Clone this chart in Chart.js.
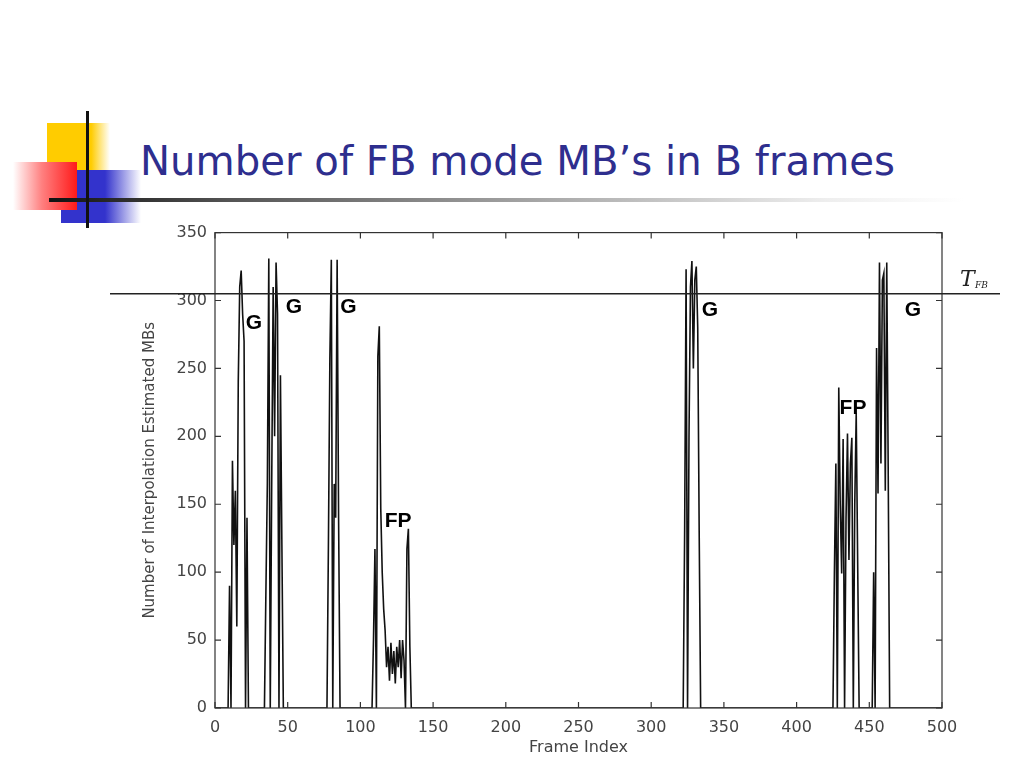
<!DOCTYPE html>
<html>
<head>
<meta charset="utf-8">
<script src="https://cdn.jsdelivr.net/npm/chart.js@4.4.0/dist/chart.umd.min.js"></script>
<style>
  html, body { margin: 0; padding: 0; background: #fff; }
  body { width: 1024px; height: 768px; position: relative; overflow: hidden; }
  .deco { position: absolute; }
  #yellow { left: 47px; top: 123px; width: 63px; height: 62px; background: linear-gradient(to right, #ffcc00 0%, #ffcc00 70%, #fff 100%); }
  #blue { left: 61px; top: 170px; width: 80px; height: 53px; background: linear-gradient(to right, #3333cc 0%, #3333cc 55%, #fff 100%); }
  #red { left: 13px; top: 162px; width: 64px; height: 48px; background: linear-gradient(to right, #fff 0%, #ff8080 45%, #ff1a1a 100%); }
  #vline { left: 86px; top: 111px; width: 3px; height: 117px; background: #111; }
  #hline { left: 49px; top: 198px; width: 915px; height: 4px; background: linear-gradient(to right, #111 0%, #555 20%, #aaa 55%, #eee 85%, #fff 100%); }
  #title { position: absolute; left: 140px; top: 138px; font-family: "DejaVu Sans", sans-serif; font-size: 40px; color: #2e2e8e; white-space: nowrap; transform-origin: left top; }
  #wrap { position: absolute; left: 100px; top: 215px; width: 910px; height: 553px; }
</style>
</head>
<body>
<div class="deco" id="yellow"></div>
<div class="deco" id="blue"></div>
<div class="deco" id="red"></div>
<div class="deco" id="hline"></div>
<div class="deco" id="vline"></div>
<div id="title">Number of FB mode MB’s in B frames</div>
<div id="wrap"><canvas id="chart" width="910" height="553"></canvas></div>
<script>
// frames 0..500, all zero outside the bursts below
const frameMax = 500;
const burstStart = [9, 34, 77, 108, 322, 425, 452];
const burstA = [0, 90, 0, 182, 120, 160, 60, 240, 310, 322, 290, 270, 0, 140, 0];
const burstB = [0, 85, 165, 331, 0, 165, 310, 200, 328, 290, 0, 245, 120, 0];
const burstC = [0, 120, 257, 330, 0, 165, 140, 330, 140, 0];
const burstD = [0, 50, 117, 0, 259, 281, 147, 100, 73, 57, 30, 45, 20, 48, 25, 42, 18, 45, 30, 50, 22, 50, 35, 0, 117, 132, 46, 0];
const burstE = [0, 130, 323, 0, 200, 310, 329, 250, 315, 325, 280, 130, 0];
const burstF = [0, 100, 180, 0, 236, 150, 99, 198, 0, 140, 202, 109, 180, 199, 0, 150, 217, 107, 0];
const burstG = [0, 100, 0, 265, 158, 328, 180, 315, 320, 160, 328, 175, 0];
const bursts = [burstA, burstB, burstC, burstD, burstE, burstF, burstG];

const thresholdFB = 305;

const markText = ['G', 'G', 'G', 'FP', 'G', 'FP', 'G'];
const markFrame = [26.8, 54.3, 91.8, 126, 340.4, 438.8, 480];
const markValue = [283.5, 295, 295, 137.5, 292.6, 221, 292.6];

// build the series
const counts = new Array(frameMax + 1).fill(0);
bursts.forEach((b, i) => {
  b.forEach((v, k) => { counts[burstStart[i] + k] = v; });
});
const points = counts.map((v, f) => ({ x: f, y: v }));

// fit the title to the slide width
const titleEl = document.getElementById('title');
const tw = titleEl.getBoundingClientRect().width;
titleEl.style.transform = 'scaleX(' + (755 / tw) + ')';

const axisColor = '#333';
const tickFont = { family: 'DejaVu Sans', size: 16 };

const frameBox = {
  id: 'frameBox',
  afterDraw(chart) {
    const { ctx, chartArea: a, scales } = chart;
    ctx.save();
    ctx.strokeStyle = axisColor;
    ctx.lineWidth = 1.2;
    ctx.strokeRect(a.left, a.top, a.right - a.left, a.bottom - a.top);
    ctx.beginPath();
    scales.x.ticks.forEach(t => {
      const px = scales.x.getPixelForValue(t.value);
      ctx.moveTo(px, a.bottom); ctx.lineTo(px, a.bottom - 6);
      ctx.moveTo(px, a.top); ctx.lineTo(px, a.top + 6);
    });
    scales.y.ticks.forEach(t => {
      const py = scales.y.getPixelForValue(t.value);
      ctx.moveTo(a.left, py); ctx.lineTo(a.left + 6, py);
      ctx.moveTo(a.right, py); ctx.lineTo(a.right - 6, py);
    });
    ctx.stroke();

    // threshold line, runs past the axes
    const ty = scales.y.getPixelForValue(thresholdFB);
    ctx.strokeStyle = '#222';
    ctx.lineWidth = 1.5;
    ctx.beginPath();
    ctx.moveTo(10, ty); ctx.lineTo(900, ty);
    ctx.stroke();
    ctx.fillStyle = '#222';
    ctx.font = 'italic 22px "DejaVu Serif", serif';
    ctx.textBaseline = 'alphabetic';
    ctx.fillText('T', a.right + 18, ty - 8);
    ctx.font = 'italic 9px "DejaVu Serif", serif';
    ctx.fillText('FB', a.right + 33, ty - 6);

    // G / FP marks
    ctx.fillStyle = '#000';
    ctx.font = 'bold 21px "Liberation Sans", Arial, sans-serif';
    ctx.textAlign = 'center';
    ctx.textBaseline = 'middle';
    markText.forEach((s, i) => {
      ctx.fillText(s, scales.x.getPixelForValue(markFrame[i]), scales.y.getPixelForValue(markValue[i]));
    });
    ctx.restore();
  }
};

new Chart(document.getElementById('chart').getContext('2d'), {
  type: 'line',
  data: {
    datasets: [{
      data: points,
      borderColor: '#111',
      borderWidth: 1.6,
      pointRadius: 0,
      tension: 0,
      fill: false
    }]
  },
  options: {
    responsive: false,
    animation: false,
    layout: { padding: { left: 0, right: 68, top: 17, bottom: 0 } },
    plugins: { legend: { display: false }, tooltip: { enabled: false } },
    scales: {
      x: {
        type: 'linear',
        min: 0,
        max: 500,
        grid: { display: false, drawTicks: false },
        border: { display: false },
        ticks: { stepSize: 50, color: '#444', font: tickFont, padding: 10, maxRotation: 0 },
        title: { display: true, text: 'Frame Index', color: '#444', font: { family: 'DejaVu Sans', size: 16 }, padding: { top: 0, bottom: 11 } },
        afterFit(scale) { scale.height = 60; }
      },
      y: {
        min: 0,
        max: 350,
        grid: { display: false, drawTicks: false },
        border: { display: false },
        ticks: { stepSize: 50, color: '#444', font: tickFont, padding: 8 },
        title: { display: true, text: 'Number of Interpolation Estimated MBs', color: '#444', font: { family: 'DejaVu Sans', size: 15 }, padding: { top: 41, bottom: 0 } },
        afterFit(scale) { scale.width = 115; }
      }
    }
  },
  plugins: [frameBox]
});
</script>
</body>
</html>
